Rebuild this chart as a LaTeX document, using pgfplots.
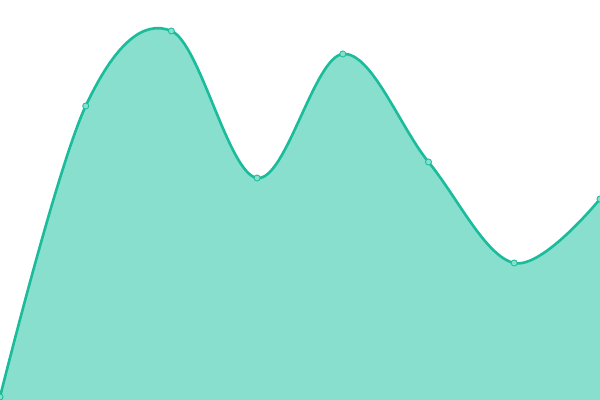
\documentclass[border=0pt]{standalone}
\usepackage{pgfplots}
\pgfplotsset{compat=1.18}
\definecolor{turq}{HTML}{1ABC9C}
\definecolor{turqfill}{HTML}{89DFCE}
\begin{document}
\begin{tikzpicture}
\begin{axis}[
    hide axis, scale only axis,
    width=6in, height=4in,
    xmin=0, xmax=600, ymin=0, ymax=400,
    clip=true, clip marker paths=true,
]
\addplot[draw=none, fill=turqfill, smooth, tension=0.6] coordinates {
    (0,3) (85.7,294) (171.4,369) (257.1,222) (342.8,346) (428.5,238) (514.2,137) (600,201)
} -- (axis cs:600,0) -- (axis cs:0,0) -- cycle;
\addplot[turq, line width=1.9pt, smooth, tension=0.6,
    mark=*, mark size=2.2pt,
    mark options={fill=turqfill, draw=turq, line width=0.6pt}] coordinates {
    (0,3) (85.7,294) (171.4,369) (257.1,222) (342.8,346) (428.5,238) (514.2,137) (600,201)
};
\end{axis}
\pgfresetboundingbox
\useasboundingbox (current axis.south west) rectangle (current axis.north east);
\end{tikzpicture}
\end{document}
